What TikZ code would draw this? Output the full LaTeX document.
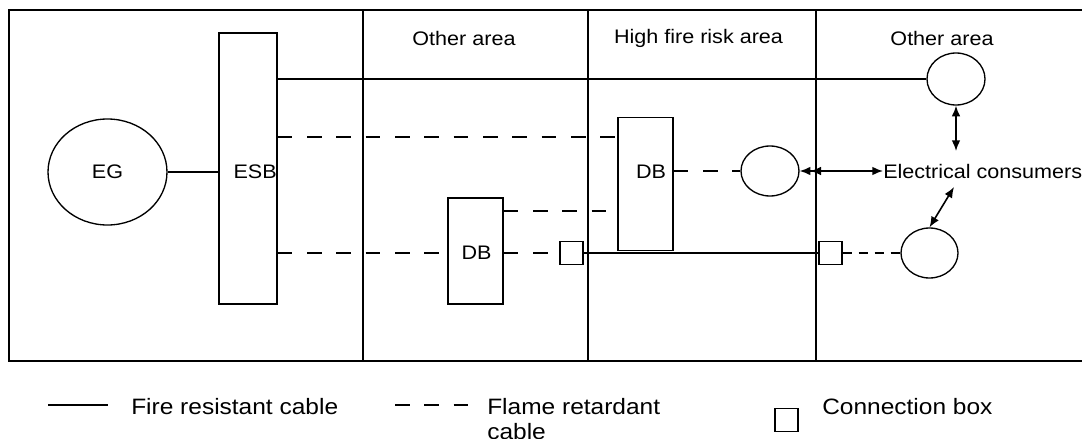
\documentclass[tikz,border=0pt]{standalone}
\usepackage{fontspec}
\setmainfont[FakeStretch=1.1]{Liberation Sans}
\usetikzlibrary{arrows.meta,shapes.geometric}
\tikzset{
	wall/.style={line width=1.5pt},
	firecable/.style={line width=1.5pt},
	flamecable/.style={line width=1pt, dash pattern=on 11pt off 11pt},
	shortdash/.style={line width=1.5pt, dash pattern=on 6.75pt off 5.25pt},
	wire/.style={line width=1pt},
	board/.style={draw, rectangle, line width=1pt, inner sep=0pt},
	consumer/.style={draw, ellipse, line width=1pt, inner sep=0pt},
	jbox/.style={draw, rectangle, line width=1pt, minimum size=17.25pt, inner sep=0pt},
	lbl/.style={font=\fontsize{14.7}{17}\selectfont, inner sep=0pt},
	leg/.style={font=\fontsize{16.7}{18.75}\selectfont, inner sep=0pt},
	link/.style={line width=1.2pt, {Latex[length=8pt,width=6.5pt]}-{Latex[length=8pt,width=6.5pt]}},
	linktwo/.style={line width=1.2pt, {Latex[length=8pt,width=6.5pt]Latex[length=8pt,width=6.5pt]}-{Latex[length=8pt,width=6.5pt]}},
}

\begin{document}
\begin{tikzpicture}[x=0.75pt, y=-0.75pt]
			%%%%% START %%%%%
			\useasboundingbox (0,0) rectangle (1082,439);
			
			\draw[wall] (1082,10) -- (9,10) -- (9,361) -- (1082,361);
			\draw[wall] (363,10) -- (363,361);
			\draw[wall] (588,10) -- (588,361);
			\draw[wall] (816,10) -- (816,361);
			
			\node[lbl] (hdone) at (464,38) {Other area};
			\node[lbl] (hdtwo) at (698.5,38) {High fire risk area};
			\node[lbl] (hdthree) at (942,38) {Other area};
			
			\node[consumer, lbl, minimum width=89.25pt, minimum height=79.5pt] (eg) at (107.5,172) {EG};
			\node[board, minimum width=43.5pt, minimum height=203.25pt] (esb) at (248,168.5) {};
			\node[lbl, anchor=east] (esbtext) at (277,172) {ESB};
			
			\node[board, minimum width=41.25pt, minimum height=79.5pt] (dbone) at (475.5,251) {};
			\node[lbl] (dbonetext) at (476.5,253) {DB};
			\node[board, minimum width=41.25pt, minimum height=100pt] (dbtwo) at (645.5,184) {};
			\node[lbl] (dbtwotext) at (651,172) {DB};
			
			\node[consumer, minimum width=43.5pt, minimum height=39pt] (cone) at (956,79) {};
			\node[consumer, minimum width=43.5pt, minimum height=37.5pt] (ctwo) at (770,171) {};
			\node[consumer, minimum width=42.75pt, minimum height=37.5pt] (cthree) at (929.5,253) {};
			\node[lbl, anchor=west] (cons) at (883,171) {Electrical consumers};
			
			\node[jbox] (jone) at (571.5,253) {};
			\node[jbox] (jtwo) at (830.5,253) {};
			
			\coordinate (rowa) at (0,137);
			\coordinate (rowb) at (0,211);
			\coordinate (consup) at (956,151);
			\coordinate (consdown) at (954,187);
			
			% cables
			\draw[wire] (eg.east) -- (eg.east -| esb.west);
			\draw[firecable] (esb.east |- cone) -- (cone.west);
			\draw[flamecable] (esb.east |- rowa) -- (dbtwo.west |- rowa);
			\draw[flamecable] (dbone.east |- rowb) -- (dbtwo.west |- rowb);
			\draw[flamecable] (dbtwo.east |- ctwo) -- (ctwo.west);
			\draw[flamecable] (esb.east |- jone) -- (dbone.west |- jone);
			\draw[flamecable] (dbone.east |- jone) -- (jone.west);
			\draw[firecable] (jone.east) -- (jtwo.west);
			\draw[shortdash] (jtwo.east) -- (cthree.west);
			
			% consumers
			\draw[linktwo] (ctwo.east) -- (cons.west);
			\draw[link] (cone.south) -- (consup);
			\draw[link] (cthree.north) -- (consdown);
			
			% legend
			\coordinate (legfra) at (48,405);
			\coordinate (legfrb) at (108,405);
			\coordinate (legfla) at (395,405);
			\coordinate (legflb) at (469,405);
			\draw[firecable] (legfra) -- (legfrb);
			\node[leg, anchor=west] (legfr) at (131,407) {Fire resistant cable};
			\draw[flamecable] (legfla) -- (legflb);
			\node[leg, anchor=north west, align=left] (legfl) at (487,398) {Flame retardant\\cable};
			\node[jbox] (legbox) at (786.5,420) {};
			\node[leg, anchor=west] (legjb) at (822,407) {Connection box};
			
			%%%%% END %%%%%
\end{tikzpicture}
\end{document}
